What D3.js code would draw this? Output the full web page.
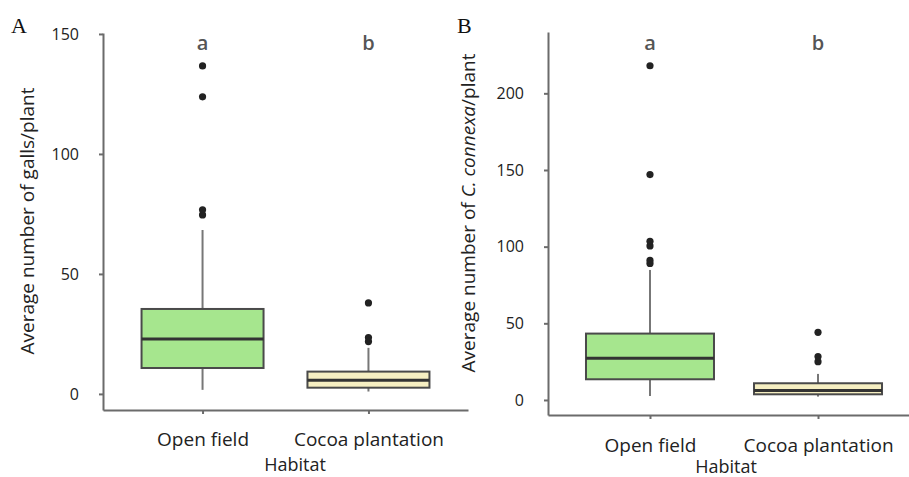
<!DOCTYPE html>
<html>
<head>
<meta charset="utf-8">
<script src="https://cdn.jsdelivr.net/npm/d3@7"></script>
<style>
  body { margin: 0; background: #fff; }
  svg { display: block; font-family: 'Open Sans', sans-serif; }
  .axis path, .axis line { stroke: #6b6b6b; stroke-width: 2; }
  .axis text { fill: #222; font-size: 16px; font-family: 'Open Sans', sans-serif; }
</style>
</head>
<body>
<svg width="909" height="477"></svg>
<script>
// data
const habitats = ['Open field', 'Cocoa plantation'];
const letters = ['a', 'b'];
// [whiskerLow, q1, median, q3, whiskerHigh]
const gallStats = [[1.7, 10.8, 22.9, 35.4, 68.3], [1, 2.6, 5.7, 9.3, 19.2]];
const gallOutliers = [[74.6, 76.7, 123.8, 136.7], [21.8, 23.5, 37.9]];
const gallTicks = [0, 50, 100, 150];
const connexaStats = [[2.6, 13.5, 27.2, 43.3, 84.8], [2.2, 3.7, 6.1, 10.9, 17]];
const connexaOutliers = [[89, 91, 100.5, 103.5, 147, 218], [25, 28.3, 44.1]];
const connexaTicks = [0, 50, 100, 150, 200];

const fills = ['#a6e68e', '#f6efc2'];

const svg = d3.select('svg');

const panels = [
  {
    tag: 'A', tagX: 11, stats: gallStats, outliers: gallOutliers, ticks: gallTicks,
    yDomain: [-6.7, 150.4], yRange: [410, 33], xRange: [103, 468], pad: 0.6,
    boxW: 122, labelX: 27, labelY: 221, habitatX: 295, habitatY: 471, catY: 19
  },
  {
    tag: 'B', tagX: 457, stats: connexaStats, outliers: connexaOutliers, ticks: connexaTicks,
    yDomain: [-9.8, 240], yRange: [415, 32], xRange: [548, 920], pad: 0.607,
    boxW: 128, labelX: 468, labelY: 213, habitatX: 726, habitatY: 473, catY: 20
  }
];

panels.forEach((p) => {
  const g = svg.append('g');
  const y = d3.scaleLinear().domain(p.yDomain).range(p.yRange);
  const x = d3.scalePoint().domain(habitats).range(p.xRange).padding(p.pad);

  g.append('g')
    .attr('class', 'axis')
    .attr('transform', `translate(${p.xRange[0]},0)`)
    .call(d3.axisLeft(y).tickValues(p.ticks).tickSize(4).tickSizeOuter(0).tickPadding(20));

  g.append('g')
    .attr('class', 'axis')
    .attr('transform', `translate(0,${p.yRange[0]})`)
    .call(d3.axisBottom(x).tickSize(4).tickSizeOuter(0).tickPadding(p.catY))
    .selectAll('text').style('font-size', '19px');

  const boxes = g.selectAll('.box')
    .data(habitats.map((h, i) => ({ h, i, s: p.stats[i], o: p.outliers[i] })))
    .enter().append('g')
    .attr('class', 'box');

  // whiskers
  boxes.append('line')
    .attr('x1', d => x(d.h)).attr('x2', d => x(d.h))
    .attr('y1', d => y(d.s[0])).attr('y2', d => y(d.s[4]))
    .attr('stroke', '#777').attr('stroke-width', 2);

  boxes.append('rect')
    .attr('x', d => x(d.h) - p.boxW / 2)
    .attr('width', p.boxW)
    .attr('y', d => y(d.s[3]))
    .attr('height', d => y(d.s[1]) - y(d.s[3]))
    .attr('fill', d => fills[d.i])
    .attr('stroke', '#4a4a4a')
    .attr('stroke-width', 2);

  boxes.append('line')
    .attr('x1', d => x(d.h) - p.boxW / 2).attr('x2', d => x(d.h) + p.boxW / 2)
    .attr('y1', d => y(d.s[2])).attr('y2', d => y(d.s[2]))
    .attr('stroke', '#333').attr('stroke-width', 3);

  boxes.selectAll('circle')
    .data(d => d.o.map(v => ({ h: d.h, v })))
    .enter().append('circle')
    .attr('cx', d => x(d.h))
    .attr('cy', d => y(d.v))
    .attr('r', 3.6)
    .attr('fill', '#222');

  // significance letters
  g.selectAll('.letter')
    .data(habitats)
    .enter().append('text')
    .attr('x', d => x(d))
    .attr('y', 50)
    .attr('text-anchor', 'middle')
    .style('font-size', '20px')
    .style('font-weight', '600')
    .style('fill', '#555')
    .text((d, i) => letters[i]);

  g.append('text')
    .attr('x', p.tagX)
    .attr('y', 33)
    .style('font-family', "'Liberation Serif', serif")
    .style('font-size', '22px')
    .style('fill', '#111')
    .text(p.tag);

  g.append('text')
    .attr('x', p.habitatX)
    .attr('y', p.habitatY)
    .attr('text-anchor', 'middle')
    .style('font-size', '18px')
    .style('fill', '#222')
    .text('Habitat');

  const yl = g.append('text')
    .attr('transform', `translate(${p.labelX},${p.labelY}) rotate(-90)`)
    .attr('text-anchor', 'middle')
    .attr('dy', '0.35em')
    .style('font-size', '19px')
    .style('fill', '#222');
  if (p.tag === 'A') {
    yl.text('Average number of galls/plant');
  } else {
    yl.append('tspan').text('Average number of ');
    yl.append('tspan').style('font-style', 'italic').text('C. connexa');
    yl.append('tspan').text('/plant');
  }
});
</script>
</body>
</html>
